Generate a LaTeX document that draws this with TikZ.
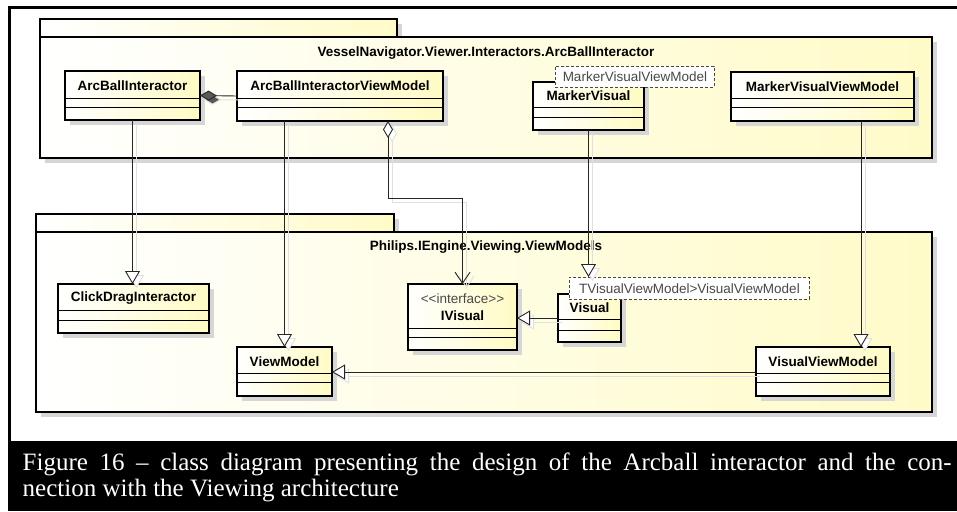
\documentclass[tikz,border=0pt]{standalone}
\usepackage{fontspec}
\setmainfont{Liberation Sans}
\newfontfamily\captionserif{Liberation Serif}
\usetikzlibrary{arrows.meta,shadows}

\definecolor{umlyellow}{RGB}{255,251,196}
\definecolor{pkgyellow}{RGB}{255,251,200}
\definecolor{shadowgray}{RGB}{214,214,214}
\definecolor{wireshadow}{RGB}{224,224,224}
\definecolor{paramgray}{RGB}{72,72,72}

% class box: #1 name, #2 x, #3 y, #4 width, #5 height,
% #6 first compartment line, #7 second compartment line, #8 title
\newcommand\umlclass[8]{%
  \node[classnode,minimum width=#4pt,minimum height=#5pt] (#1) at (#2,#3) {};
  \draw[compline] ([yshift=-#6pt]#1.north west) -- ([yshift=-#6pt]#1.north east);
  \draw[compline] ([yshift=-#7pt]#1.north west) -- ([yshift=-#7pt]#1.north east);
  \if\relax\detokenize{#8}\relax\else
    \node[classname] (#1-title) at ([yshift=-#6pt/2-1.5pt]#1.north) {#8};
  \fi
}

\begin{document}
\begin{tikzpicture}[x=1pt,y=-1pt,
  font=\fontsize{13.5}{16}\selectfont,
  boxshadow/.style={drop shadow={shadow xshift=5pt,shadow yshift=-5pt,fill=shadowgray,opacity=1}},
  pkgpart/.style={draw=black,line width=2.5pt,left color=white,right color=pkgyellow,
    boxshadow,inner sep=0pt,outer sep=0pt,anchor=north west},
  classnode/.style={draw=black,line width=2.5pt,left color=white,right color=umlyellow,
    boxshadow,inner sep=0pt,outer sep=0pt,anchor=north west},
  compline/.style={line width=0.9pt},
  classname/.style={font=\fontsize{13.5}{16}\selectfont\bfseries,inner sep=0pt},
  pkglabel/.style={font=\fontsize{13.5}{16}\selectfont\bfseries,inner sep=0pt},
  stereo/.style={font=\fontsize{13.5}{16}\selectfont,text=paramgray,inner sep=0pt},
  tparam/.style={draw=paramgray,dash pattern=on 3pt off 2pt,line width=0.8pt,fill=white,
    text=paramgray,inner sep=0pt,anchor=north west},
  wire/.style={line width=0.9pt,draw=black!85,
    preaction={draw=wireshadow,line width=0.9pt,transform canvas={shift={(4pt,-4pt)}}}},
  gen/.style={wire,-{Triangle[length=13pt,width=15pt,fill=white]}},
  comp/.style={wire,{Diamond[length=17pt,width=10pt,fill=black!65]}-},
  aggrnav/.style={wire,{Diamond[length=17pt,width=10pt,fill=white]}-{Straight Barb[length=11pt,width=15pt]}},
  captext/.style={anchor=base west,inner sep=0pt,text=white,
    font=\captionserif\fontsize{25}{28}\selectfont},
]
\useasboundingbox (0,0) rectangle (957,511);
\fill[white] (0,0) rectangle (957,511);

% outer frame
\draw[line width=2.5pt] (957,7.5) -- (9.5,7.5) -- (9.5,441);

% package VesselNavigator.Viewer.Interactors.ArcBallInteractor
\node[pkgpart,minimum width=357pt,minimum height=18pt] (pkgAtab) at (40,19) {};
\node[pkgpart,minimum width=892pt,minimum height=121pt] (pkgA) at (40,37) {};
\node[pkglabel] (pkgAname) at (486,53) {VesselNavigator.Viewer.Interactors.ArcBallInteractor};

% package Philips.IEngine.Viewing.ViewModels
\node[pkgpart,minimum width=358pt,minimum height=18pt] (pkgBtab) at (36,214) {};
\node[pkgpart,minimum width=896pt,minimum height=180pt] (pkgB) at (36,232) {};
\node[pkglabel] (pkgBname) at (486,247) {Philips.IEngine.Viewing.ViewModels};

% classes
\umlclass{abi}{65}{71}{135}{49}{27}{36}{ArcBallInteractor}
\umlclass{abivm}{237}{71}{206}{50}{27}{36}{ArcBallInteractorViewModel}
\umlclass{mv}{533}{82}{111}{48}{25}{35}{MarkerVisual}
\umlclass{mvvm}{731}{72}{183}{49}{26}{35}{MarkerVisualViewModel}
\umlclass{cdi}{58}{284}{151}{49}{26}{36}{ClickDragInteractor}
\umlclass{vm}{237}{347}{95}{49}{26}{35}{ViewModel}
\umlclass{ivis}{408}{284}{109}{66}{44}{53}{}
\node[stereo] (ivis-stereo) at ([yshift=-15pt]ivis.north) {<{}<interface>{}>};
\node[classname] (ivis-title) at ([yshift=-32pt]ivis.north) {IVisual};
\umlclass{vis}{558}{294}{63}{48}{25}{36}{Visual}
\umlclass{vvm}{756}{347}{134}{49}{26}{35}{VisualViewModel}

% template parameters
\node[tparam,minimum width=159pt,minimum height=21pt] (mvparam) at (555,66) {MarkerVisualViewModel};
\node[tparam,minimum width=240pt,minimum height=22pt] (visparam) at (569,277) {TVisualViewModel>VisualViewModel};

% relations
\draw[comp] (abi.east) -- (abivm.west);
\draw[gen] (abi.south) -- (abi.south |- cdi.north);
\draw[gen] (vm.north |- abivm.south) -- (vm.north);
\coordinate (aggstart) at ([xshift=48pt]abivm.south);
\draw[aggrnav] (aggstart) -- ++(0,77) -| (ivis.north);
\draw[gen] (mv.south) -- (mv.south |- visparam.north);
\coordinate (vvmin) at ([xshift=38pt]vvm.north);
\draw[gen] (vvmin |- mvvm.south) -- (vvmin);
\coordinate (visout) at ([yshift=-24pt]vis.north west);
\draw[gen] (visout) -- (visout -| ivis.east);
\coordinate (vvmout) at ([yshift=-25pt]vvm.north west);
\draw[gen] (vvmout) -- (vvmout -| vm.east);

% caption, first line justified to the full width
\fill[black] (8,441) rectangle (957,511);
\node[captext] (capline1) at (22.5,470.5)
  {\hbox to 929pt{Figure 16 – class diagram presenting the design of the Arcball interactor and the con-}};
\node[captext] (capline2) at (22.5,496.5) {nection with the Viewing architecture};
\end{tikzpicture}
\end{document}
